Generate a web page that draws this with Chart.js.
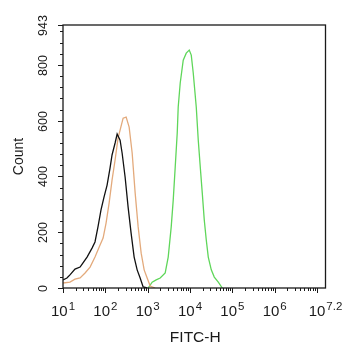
<!DOCTYPE html>
<html>
<head>
<meta charset="utf-8">
<script src="https://cdn.jsdelivr.net/npm/chart.js@4"></script>
<style>
  html, body { margin: 0; padding: 0; background: #fff; }
  #wrap { width: 342px; height: 350px; }
</style>
</head>
<body>
<div id="wrap"><canvas id="hist"></canvas></div>
<script>
// FITC-H histogram overlay (counts per channel)
const blackX = [10, 12.4, 14.6, 19.2, 25.3, 29.7, 37, 48.5, 57, 67, 79, 93, 110, 129, 144, 170, 190, 223, 249, 293, 345, 406, 479, 564, 664, 782, 972];
const blackY = [29, 36, 47, 68, 75, 90, 111, 143, 165, 219, 280, 326, 369, 430, 477, 520, 552, 530, 484, 398, 290, 197, 111, 65, 36, 4, 0];

const orangeX = [10, 14.6, 19.2, 25.3, 33.2, 43.6, 57, 75, 88.5, 104, 123, 144, 170, 200, 223, 263, 310, 365, 430, 506, 596, 702, 826, 972, 1145, 1500];
const orangeY = [18, 21, 32, 36, 54, 75, 111, 154, 179, 233, 305, 387, 459, 538, 566, 609, 613, 577, 484, 341, 219, 125, 65, 36, 7, 0];

const greenX = [1025, 1276, 1588, 1974, 2593, 3054, 3597, 4012, 4472, 4988, 5262, 5870, 6915, 8147, 9597, 10700, 11920, 14040, 15660, 17460, 19460, 21710, 24210, 26990, 31790, 37440, 46580, 57840];
const greenY = [0, 21, 29, 36, 54, 111, 219, 315, 434, 556, 649, 735, 817, 842, 853, 835, 771, 649, 530, 434, 341, 244, 172, 111, 65, 39, 21, 0];

const yMajor = [0, 200, 400, 600, 800, 943];
const yMinorStep = 40;
const xExponents = [1, 2, 3, 4, 5, 6, 7.2];

const toPoints = (xs, ys) => xs.map((x, i) => ({ x: x, y: ys[i] }));

const FONT = "Arial, 'Liberation Sans', sans-serif";

// frame, ticks and labels drawn from the scales
const axesPlugin = {
  id: "flowAxes",
  afterDraw(chart) {
    const ctx = chart.ctx;
    const area = chart.chartArea;
    const xs = chart.scales.x;
    const ys = chart.scales.y;
    ctx.save();
    ctx.strokeStyle = "#1a1a1a";
    ctx.fillStyle = "#1a1a1a";
    ctx.lineWidth = 1.3;
    ctx.strokeRect(area.left, area.top, area.right - area.left, area.bottom - area.top);

    // y ticks
    ctx.lineWidth = 1;
    for (let v = 0; v <= ys.max; v += yMinorStep) {
      const py = Math.round(ys.getPixelForValue(v)) + 0.5;
      ctx.beginPath();
      ctx.moveTo(area.left - 3, py);
      ctx.lineTo(area.left, py);
      ctx.stroke();
    }
    ctx.font = "12.5px " + FONT;
    ctx.textAlign = "center";
    ctx.textBaseline = "alphabetic";
    yMajor.forEach(v => {
      const py = Math.round(ys.getPixelForValue(v)) + 0.5;
      ctx.beginPath();
      ctx.moveTo(area.left - 5, py);
      ctx.lineTo(area.left, py);
      ctx.stroke();
      ctx.save();
      ctx.translate(47, py);
      ctx.rotate(-Math.PI / 2);
      ctx.fillText(String(v), 0, 0);
      ctx.restore();
    });

    // x ticks (log decades with minor 2..9)
    for (let d = 1; d <= 7; d++) {
      for (let m = 1; m <= 9; m++) {
        const val = m * Math.pow(10, d);
        if (val > xs.max) break;
        const px = Math.round(xs.getPixelForValue(val)) + 0.5;
        ctx.beginPath();
        ctx.moveTo(px, area.bottom);
        ctx.lineTo(px, area.bottom + (m === 1 ? 5 : 3));
        ctx.stroke();
      }
    }
    xExponents.forEach(e => {
      const px = xs.getPixelForValue(Math.pow(10, e));
      ctx.font = "15px " + FONT;
      const wBase = ctx.measureText("10").width;
      ctx.font = "11.5px " + FONT;
      const sup = String(e);
      const wSup = ctx.measureText(sup).width;
      const left = px - (wBase + 1 + wSup) / 2;
      ctx.textAlign = "left";
      ctx.font = "15px " + FONT;
      ctx.fillText("10", left, 315.5);
      ctx.font = "11.5px " + FONT;
      ctx.fillText(sup, left + wBase + 1, 309.5);
    });

    // axis titles
    ctx.textAlign = "center";
    ctx.font = "15.5px " + FONT;
    ctx.fillText("FITC-H", (area.left + area.right) / 2 + 1, 342);
    ctx.save();
    ctx.translate(23, (area.top + area.bottom) / 2);
    ctx.rotate(-Math.PI / 2);
    ctx.font = "14px " + FONT;
    ctx.fillText("Count", 0, 0);
    ctx.restore();
    ctx.restore();
  }
};

new Chart(document.getElementById("hist"), {
  type: "line",
  data: {
    datasets: [
      {
        label: "black",
        data: toPoints(blackX, blackY),
        borderColor: "#111111",
        borderWidth: 1.3,
      },
      {
        label: "orange",
        data: toPoints(orangeX, orangeY),
        borderColor: "#e3aa7c",
        borderWidth: 1.3,
      },
      {
        label: "green",
        data: toPoints(greenX, greenY),
        borderColor: "#5fd65a",
        borderWidth: 1.3,
      },
    ],
  },
  options: {
    responsive: true,
    maintainAspectRatio: false,
    animation: false,
    layout: {
      padding: { left: 63, right: 16.5, top: 25, bottom: 62 },
    },
    plugins: {
      legend: { display: false },
      tooltip: { enabled: false },
    },
    elements: {
      line: { tension: 0 },
      point: { radius: 0 },
    },
    scales: {
      x: {
        type: "logarithmic",
        display: false,
        min: 10,
        max: Math.pow(10, 7.2),
      },
      y: {
        type: "linear",
        display: false,
        min: 0,
        max: 943,
      },
    },
  },
  plugins: [axesPlugin],
});
</script>
</body>
</html>
